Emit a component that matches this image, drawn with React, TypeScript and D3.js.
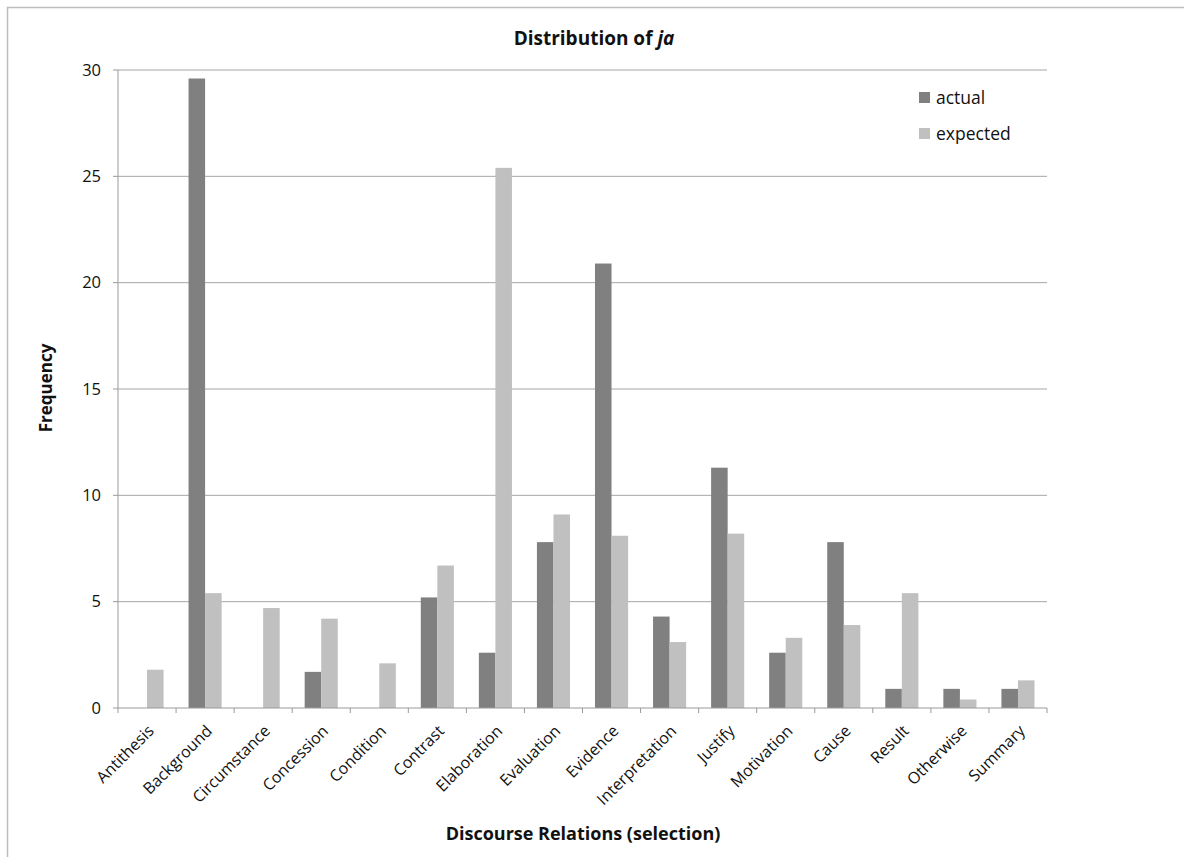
import React from "react";
import * as d3 from "d3";

const categories = ["Antithesis","Background","Circumstance","Concession","Condition","Contrast","Elaboration","Evaluation","Evidence","Interpretation","Justify","Motivation","Cause","Result","Otherwise","Summary"];
const actual = [0, 29.6, 0, 1.7, 0, 5.2, 2.6, 7.8, 20.9, 4.3, 11.3, 2.6, 7.8, 0.9, 0.9, 0.9];
const expected = [1.8, 5.4, 4.7, 4.2, 2.1, 6.7, 25.4, 9.1, 8.1, 3.1, 8.2, 3.3, 3.9, 5.4, 0.4, 1.3];
const yTicks = [0, 5, 10, 15, 20, 25, 30];
const seriesNames = ["actual", "expected"];
const seriesColors = ["#808080", "#c0c0c0"];

const W = 1184, H = 857;
const left = 118, right = 1047, top = 70, bottom = 708;
const FONT = "'Open Sans', Lato, sans-serif";

export default function App() {
  const x = d3.scaleBand<string>().domain(categories).range([left, right]).paddingInner(0).paddingOuter(0);
  const y = d3.scaleLinear().domain([0, 30]).range([bottom, top]);
  const bw = x.bandwidth();
  const barW = bw * 0.285;
  const sub = d3.scaleBand<string>().domain(seriesNames).range([bw / 2 - barW, bw / 2 + barW]);
  const data = [actual, expected];
  return (
    <svg width={W} height={H} style={{ position: "absolute", left: 0, top: 0, background: "#fff" }} fontFamily={FONT}>
      <rect x={7.5} y={7.5} width={W + 10} height={H + 10} fill="#fff" stroke="#bdbdbd" strokeWidth={1.5} />
      {yTicks.filter(t => t > 0).map(t => (
        <line key={t} x1={left} x2={right} y1={y(t)} y2={y(t)} stroke="#a6a6a6" strokeWidth={1} />
      ))}
      {data.map((vals, si) =>
        categories.map((c, i) => (
          <rect key={si + "-" + c} x={(x(c) as number) + (sub(seriesNames[si]) as number)} width={sub.bandwidth()}
            y={y(vals[i])} height={bottom - y(vals[i])} fill={seriesColors[si]} />
        ))
      )}
      <line x1={left} x2={left} y1={top} y2={bottom} stroke="#9a9a9a" />
      <line x1={left} x2={right} y1={bottom} y2={bottom} stroke="#9a9a9a" />
      {yTicks.map(t => (
        <g key={t}>
          <line x1={left - 5} x2={left} y1={y(t)} y2={y(t)} stroke="#9a9a9a" />
          <text x={left - 17} y={y(t)} dy="0.35em" textAnchor="end" fontSize={16.5} fill="#111">{t}</text>
        </g>
      ))}
      {[...categories.map(c => x(c) as number), right].map((px, i) => (
        <line key={i} x1={px} x2={px} y1={bottom} y2={bottom + 5} stroke="#9a9a9a" />
      ))}
      {categories.map(c => {
        const cx = (x(c) as number) + bw / 2 + 4;
        const cy = bottom + 20;
        return (
          <text key={c} x={cx} y={cy} transform={`rotate(-45 ${cx} ${cy})`} textAnchor="end" dy="0.35em" fontSize={16} fill="#111">{c}</text>
        );
      })}
      <text x={594} y={45} textAnchor="middle" fontSize={19} fontWeight="bold" fill="#111">
        Distribution of <tspan fontStyle="italic">ja</tspan>
      </text>
      <text x={583} y={840} textAnchor="middle" fontSize={18} fontWeight="bold" fill="#111">Discourse Relations (selection)</text>
      <text transform={`translate(52 ${388}) rotate(-90)`} textAnchor="middle" fontSize={17} fontWeight="bold" fill="#111">Frequency</text>
      {seriesNames.map((s, i) => (
        <g key={s} transform={`translate(919 ${92 + i * 36})`}>
          <rect x={0} y={0} width={11} height={11} fill={seriesColors[i]} />
          <text x={17} y={6} dy="0.35em" fontSize={17.5} fill="#111">{s}</text>
        </g>
      ))}
    </svg>
  );
}
